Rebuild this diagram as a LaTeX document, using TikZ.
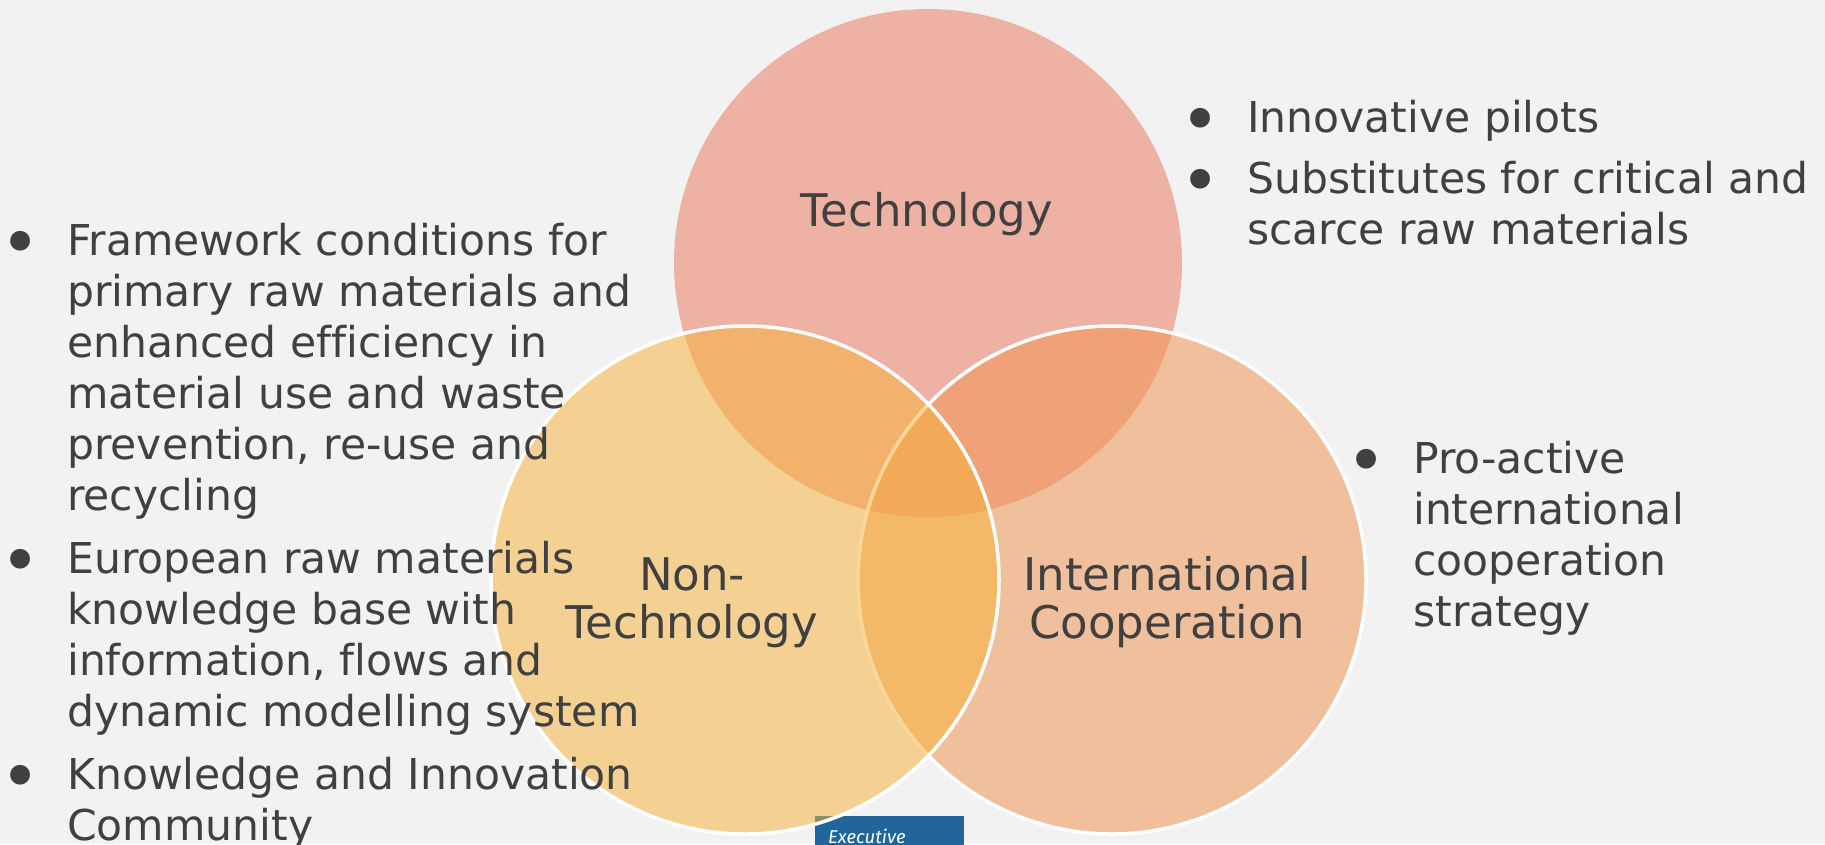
\documentclass[tikz,border=0pt]{standalone}
\usepackage{fontspec}
\setmainfont[Ligatures={TeX,NoCommon}]{DejaVu Sans}
\newfontfamily\execfont{Fira Sans}
\usetikzlibrary{positioning}

\definecolor{bggray}{HTML}{F2F2F2}
\definecolor{textgray}{HTML}{404040}
\definecolor{techred}{HTML}{EB7960}
\definecolor{nontechyellow}{HTML}{F6B33C}
\definecolor{intorange}{HTML}{F0944F}
\definecolor{execblue}{HTML}{21669A}

\newcommand{\vennbullet}{\hspace*{-7.5pt}\raisebox{-11pt}{\scalebox{1.6}{\textbullet}}}

\begin{document}
\begin{tikzpicture}[x=1pt, y=-1pt,
  venncircle/.style={circle, minimum size=508pt, inner sep=0pt, fill opacity=0.52},
  vennlabel/.style={text=textgray, align=center, inner sep=0pt, font=\fontsize{45}{48}\selectfont},
  bulletlist/.style={text=textgray, inner sep=0pt, anchor=north west, font=\fontsize{42.5}{51}\selectfont}]

%Background
\fill[bggray] (0,0) rectangle (1825,844);
\useasboundingbox (0,0) rectangle (1825,844);

%Logo at the bottom
\fill[execblue] (815,816) rectangle (964,870);
\node[anchor=base west, inner sep=0pt, text=white, font=\execfont\itshape\fontsize{18.5}{22}\selectfont] (exec) at (828,843) {Executive};

%Circles
\node[venncircle, fill=techred] (tech) at (928,263) {};
\node[venncircle, fill=intorange, draw=white, line width=3.5pt] (intcoop) at (1112,580) {};
\node[venncircle, fill=nontechyellow, draw=white, line width=3.5pt] (nontech) at (745,580) {};

%Labels
\node[vennlabel, anchor=base] (techlabel) at (927,226) {Technology};
\node[vennlabel, anchor=north] (intlabel) at (1167,556) {International\\Cooperation};
\node[vennlabel, anchor=north] (nontechlabel) at (692,557) {Non-\\Technology};

%Lists
\node[bulletlist] (techlist) at (1187.5,96.3) {\begin{tabular}{@{}p{59.5pt}@{}l@{}}
\vennbullet & Innovative pilots\\[10pt]
\vennbullet & Substitutes for critical and\\
 & scarce raw materials
\end{tabular}};

\node[bulletlist] (nontechlist) at (7.5,219.3) {\begin{tabular}{@{}p{59.5pt}@{}l@{}}
\vennbullet & Framework conditions for\\
 & primary raw materials and\\
 & enhanced efficiency in\\
 & material use and waste\\
 & prevention, re-use and\\
 & recycling\\[12pt]
\vennbullet & European raw materials\\
 & knowledge base with\\
 & information, flows and\\
 & dynamic modelling system\\[12pt]
\vennbullet & Knowledge and Innovation\\
 & Community
\end{tabular}};

\node[bulletlist] (intlist) at (1353.5,437.8) {\begin{tabular}{@{}p{59.5pt}@{}l@{}}
\vennbullet & Pro-active\\
 & international\\
 & cooperation\\
 & strategy
\end{tabular}};

\end{tikzpicture}
\end{document}
